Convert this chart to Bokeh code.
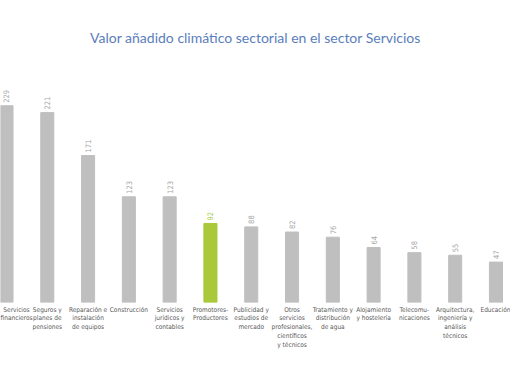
import math
from bokeh.plotting import figure
from bokeh.models import ColumnDataSource, Range1d, FixedTicker, Title
from bokeh.core.properties import value
from bokeh.embed import file_html
from bokeh.resources import INLINE

categories = [
    "Servicios\nfinancieros",
    "Seguros y\nplanes de\npensiones",
    "Reparación e\ninstalación\nde equipos",
    "Construcción",
    "Servicios\njurídicos y\ncontables",
    "Promotores-\nProductores",
    "Publicidad y\nestudios de\nmercado",
    "Otros\nservicios\nprofesionales,\ncientíficos\ny técnicos",
    "Tratamiento y\ndistribución\nde agua",
    "Alojamiento\ny hostelería",
    "Telecomu-\nnicaciones",
    "Arquitectura,\ningeniería y\nanálisis\ntécnicos",
    "Educación",
]
values = [229, 221, 171, 123, 123, 92, 88, 82, 76, 64, 58, 55, 47]
highlight = "Promotores-\nProductores"

GRAY = "#BFBFBF"
GREEN = "#A9C83A"
xs = list(range(len(categories)))
bar_colors = [GREEN if c == highlight else GRAY for c in categories]
label_colors = [GREEN if c == highlight else "#A6A6A6" for c in categories]

src = ColumnDataSource(dict(x=xs, v=values, t=[str(v) for v in values],
                            c=bar_colors, lc=label_colors))

NARROW = "'DejaVu Sans Condensed', Roboto"

p = figure(width=510, height=382, output_backend="svg", toolbar_location=None,
           x_range=Range1d(-0.147, 12.356), y_range=Range1d(0, 270),
           min_border_left=0, min_border_right=0, min_border_top=70,
           min_border_bottom=80)
p.title = Title(text="Valor añadido climático sectorial en el sector Servicios",
                align="center", text_font="Lato", text_font_size="14px",
                text_font_style="normal", text_color="#5A7EBB", standoff=49)

p.vbar(x="x", top="v", width=0.32, color="c", source=src)
p.text(x="x", y="v", text="t", source=src, angle=math.pi / 2,
       text_align="left", text_baseline="middle", y_offset=-3,
       text_font=value(NARROW), text_font_size="7.5px",
       text_color="lc")

p.yaxis.visible = False
p.xgrid.visible = False
p.ygrid.visible = False
p.outline_line_color = None
ax = p.xaxis[0]
ax.ticker = FixedTicker(ticks=xs)
ax.major_label_overrides = {i: c for i, c in zip(xs, categories)}
ax.axis_line_color = None
ax.major_tick_line_color = None
ax.minor_tick_line_color = None
ax.major_tick_out = 0
ax.major_tick_in = 0
ax.minor_tick_out = 0
ax.minor_tick_in = 0
ax.major_label_text_font = NARROW
ax.major_label_text_font_size = "6.5px"
ax.major_label_text_line_height = 1.1
ax.major_label_text_color = "#595959"
ax.major_label_standoff = 3
ax.major_label_orientation = "horizontal"

open("out.html", "w").write(file_html(p, INLINE))
